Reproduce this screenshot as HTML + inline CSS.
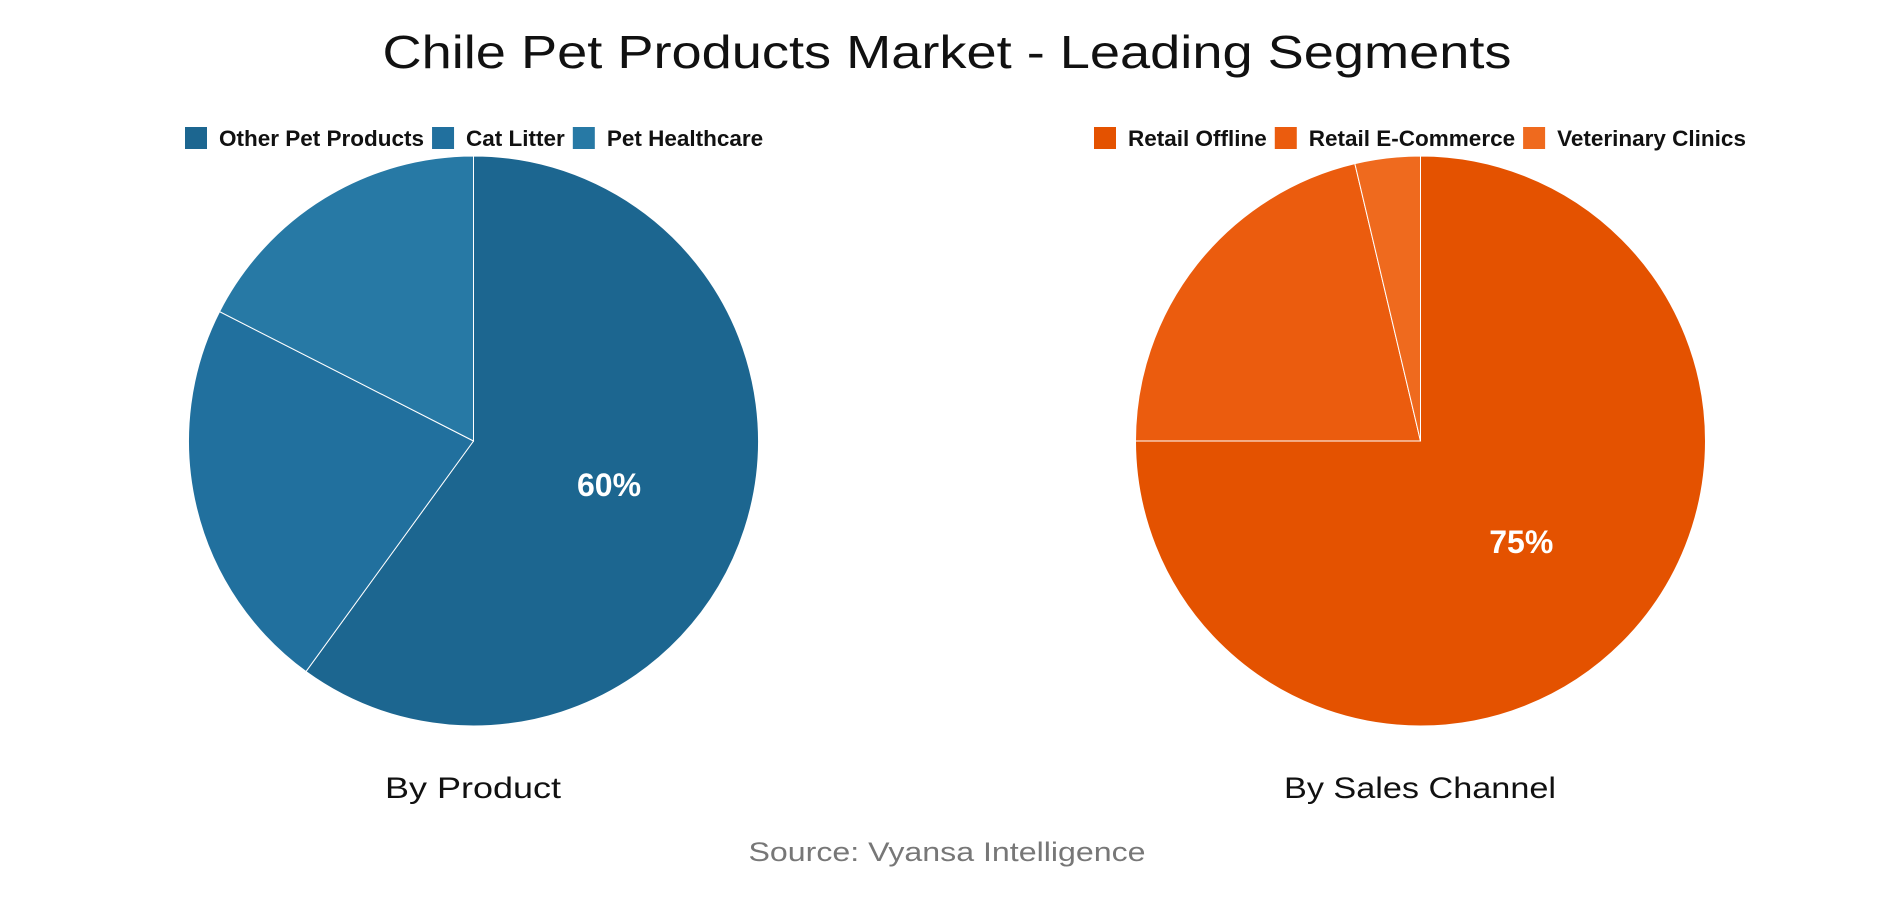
<!DOCTYPE html>
<html><head><meta charset="utf-8"><style>
body{margin:0;background:#fff;width:1894px;height:900px;overflow:hidden;font-family:"Liberation Sans",sans-serif}
</style></head><body>
<svg id="chart" width="1894" height="900" xmlns="http://www.w3.org/2000/svg">
<text x="947" y="68" text-anchor="middle" font-size="46" textLength="1129" lengthAdjust="spacingAndGlyphs" fill="#111">Chile Pet Products Market - Leading Segments</text>
<text x="473" y="798" text-anchor="middle" font-size="30" textLength="176" lengthAdjust="spacingAndGlyphs" fill="#111">By Product</text>
<text x="1420" y="798" text-anchor="middle" font-size="30" textLength="272" lengthAdjust="spacingAndGlyphs" fill="#111">By Sales Channel</text>
<text x="947" y="861" text-anchor="middle" font-size="27" textLength="397" lengthAdjust="spacingAndGlyphs" fill="#777">Source: Vyansa Intelligence</text>
</svg>
<script>
const productCats=["Other Pet Products","Cat Litter","Pet Healthcare"];
const productVals=[60,22.5,17.5];
const channelCats=["Retail Offline","Retail E-Commerce","Veterinary Clinics"];
const channelVals=[75,21.3,3.7];
const productColors=["#1c6690","#21709e","#2779a5"];
const channelColors=["#e45200","#eb5c0e","#ef6a1e"];
const svg=document.getElementById('chart');
const NS="http://www.w3.org/2000/svg";
function pie(cats,vals,colors,cx,cy,r,legendX,prefix){
  const total=vals.reduce((a,b)=>a+b,0);
  let a0=0;
  vals.forEach((v,i)=>{
    const a1=a0+v/total*2*Math.PI;
    const x0=cx+r*Math.sin(a0),y0=cy-r*Math.cos(a0);
    const x1=cx+r*Math.sin(a1),y1=cy-r*Math.cos(a1);
    const large=(a1-a0)>Math.PI?1:0;
    const p=document.createElementNS(NS,'path');
    p.setAttribute('d',`M${cx},${cy}L${x0},${y0}A${r},${r} 0 ${large} 1 ${x1},${y1}Z`);
    p.setAttribute('fill',colors[i]);p.setAttribute('stroke','#fff');p.setAttribute('stroke-width','1');
    
    
    svg.appendChild(p);
    const pct=v/total*100;
    if(pct>=30){
      const m=(a0+a1)/2;
      const t=document.createElementNS(NS,'text');
      t.setAttribute('x',cx+r*0.5*Math.sin(m));t.setAttribute('y',cy-r*0.5*Math.cos(m)+11);
      t.setAttribute('text-anchor','middle');t.setAttribute('font-size','32');t.setAttribute('font-weight','bold');t.setAttribute('fill','#fff');
      t.textContent=Math.round(pct)+'%';
      
      
      svg.appendChild(t);
    }
    a0=a1;
  });
  let x=legendX;
  cats.forEach((c,i)=>{
    const g=document.createElementNS(NS,'g');
    
    
    const rc=document.createElementNS(NS,'rect');
    rc.setAttribute('x',x);rc.setAttribute('y',127);rc.setAttribute('width',22);rc.setAttribute('height',22);rc.setAttribute('fill',colors[i]);
    g.appendChild(rc);
    const t=document.createElementNS(NS,'text');
    t.setAttribute('x',x+34);t.setAttribute('y',146);t.setAttribute('font-size','22.5');t.setAttribute('font-weight','bold');t.setAttribute('fill','#111');
    t.textContent=c;g.appendChild(t);svg.appendChild(g);
    x+=34+t.getComputedTextLength()+8;
  });
}
pie(productCats,productVals,productColors,473.5,441,285,185,'product');
pie(channelCats,channelVals,channelColors,1420.5,441,285,1094,'channel');
</script>
</body></html>
